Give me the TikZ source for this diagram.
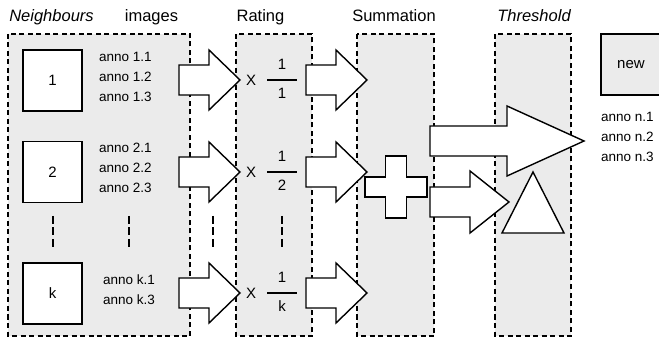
\documentclass[tikz,border=0pt]{standalone}
\usepackage{fontspec}
\setmainfont{Liberation Sans}
\definecolor{panelgray}{HTML}{EBEBEB}
% block arrow: start x, centre y, head base x, tip x, half shaft, half head
\newcommand\blockarr[6]{%
  \draw[blk] (#1,#2-#5) -- (#3,#2-#5) -- (#3,#2-#6) -- (#4,#2)
    -- (#3,#2+#6) -- (#3,#2+#5) -- (#1,#2+#5) -- cycle;}
\tikzset{
  panel/.style={draw, dash pattern=on 5pt off 3.5pt, fill=panelgray, line width=1.2pt},
  blk/.style={draw, fill=white, line width=1.4pt, line join=miter},
  imgbox/.style={draw, fill=white, line width=1.4pt, minimum width=59pt, minimum height=61pt,
    font=\fontsize{15}{17}\selectfont},
  title/.style={font=\fontsize{16.5}{19}\selectfont, anchor=base, inner sep=0},
  anno/.style={font=\fontsize{13.5}{15}\selectfont, anchor=base west, inner sep=0},
  annoc/.style={font=\fontsize{13.5}{15}\selectfont, anchor=base, inner sep=0},
  fr/.style={font=\fontsize{15}{17}\selectfont, inner sep=0},
  vdots/.style={draw, line width=1.5pt, dash pattern=on 8pt off 3.5pt},
}
\begin{document}
\begin{tikzpicture}[x=1pt, y=-1pt]
\useasboundingbox (0,0) rectangle (659,339);

% column panels
\path[panel] (8,34) rectangle (190,336);
\path[panel] (236,34) rectangle (312,336);
\path[panel] (357,34) rectangle (434,336);
\path[panel] (495,34) rectangle (571,336);

% headings
\node[title, font=\fontsize{16.5}{19}\selectfont\itshape] (tneigh) at (51.5,22) {Neighbours};
\node[title] (timg) at (151.5,22) {images};
\node[title] (trate) at (260.5,22) {Rating};
\node[title] (tsum) at (394,22) {Summation};
\node[title, font=\fontsize{16.5}{19}\selectfont\itshape] (tthr) at (534,22) {Threshold};

% neighbour images
\node[imgbox] (img1) at (52.5,80.5) {1};
\node[imgbox] (img2) at (52.5,172) {2};
\node[imgbox] (imgk) at (52.5,293.5) {k};

% annotations
\node[anno] (a11) at (99,62) {anno 1.1};
\node[anno] (a12) at (99,82) {anno 1.2};
\node[anno] (a13) at (99,102) {anno 1.3};
\node[anno] (a21) at (99,153) {anno 2.1};
\node[anno] (a22) at (99,173) {anno 2.2};
\node[anno] (a23) at (99,193) {anno 2.3};
\node[annoc] (ak1) at (129,285) {anno k.1};
\node[annoc] (ak3) at (129,305) {anno k.3};

% vertical ellipses
\foreach \x/\n in {53/d1,129/d2,213/d3,282/d4}{
  \coordinate (\n a) at (\x,216);
  \coordinate (\n b) at (\x,248);
  \draw[vdots] (\n a) -- (\n b);
}

% arrows into rating and into summation
\foreach \y in {80,172,293}{
  \blockarr{179}{\y}{209}{240}{15}{30}
  \blockarr{306}{\y}{336}{367}{15}{30}
}

% rating factors
\foreach \y/\d/\n in {80/1/r1,172/2/r2,293/k/rk}{
  \node[fr] (\n x) at (251,\y) {X};
  \coordinate (\n l) at (267,\y);
  \coordinate (\n r) at (297,\y);
  \draw[line width=1.4pt] (\n l) -- (\n r);
  \node[fr] (\n n) at (282,\y-16) {1};
  \node[fr] (\n d) at (282,\y+13.5) {\d};
}

% summation sign
\draw[blk] (385.5,156) -- (406.5,156) -- (406.5,177) -- (427,177) -- (427,197)
  -- (406.5,197) -- (406.5,218) -- (385.5,218) -- (385.5,197) -- (365,197)
  -- (365,177) -- (385.5,177) -- cycle;

% arrows out of summation
\blockarr{430}{141}{507}{584}{15}{35}
\blockarr{430}{202}{470}{509}{15}{31}

% threshold
\draw[blk] (533,172) -- (564,233) -- (502,233) -- cycle;

% new image and its annotations
\draw[line width=1.4pt, fill=panelgray] (601,34) rectangle (680,95);
\node[font=\fontsize{15}{17}\selectfont, anchor=base, inner sep=0] (newlbl) at (631,69) {new};
\node[anno] (an1) at (601,122) {anno n.1};
\node[anno] (an2) at (601,142) {anno n.2};
\node[anno] (an3) at (601,162) {anno n.3};
\end{tikzpicture}
\end{document}
